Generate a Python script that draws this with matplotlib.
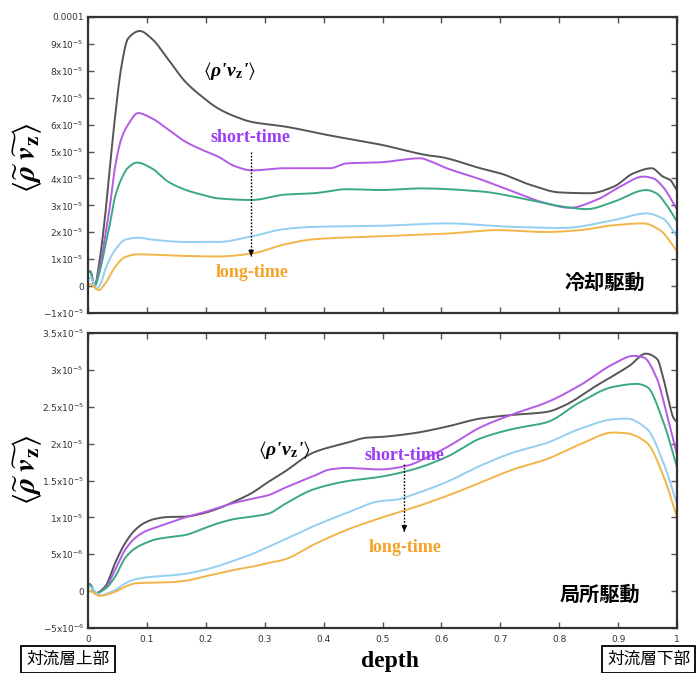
import numpy as np
import matplotlib
matplotlib.use("Agg")
import matplotlib.pyplot as plt

# ---------------- data (top panel, units of 1e-5) ----------------
top_black_x = [0, 0.004, 0.011, 0.02, 0.029, 0.038, 0.046, 0.057, 0.068, 0.088, 0.108, 0.136, 0.165, 0.193,
               0.221, 0.25, 0.278, 0.334, 0.41, 0.496, 0.58, 0.598, 0.666, 0.7, 0.75, 0.801, 0.852, 0.892,
               0.926, 0.957, 0.976, 0.988, 1.0]
top_black_y = [0.5, 0.55, 0.0, 1.0, 2.6, 4.6, 6.3, 8.2, 9.2, 9.48, 9.2, 8.43, 7.6, 7.05,
               6.6, 6.3, 6.1, 5.93, 5.6, 5.26, 4.85, 4.8, 4.38, 4.19, 3.77, 3.48, 3.45, 3.69,
               4.19, 4.38, 4.07, 3.95, 3.55]

top_purple_x = [0, 0.004, 0.011, 0.02, 0.029, 0.038, 0.046, 0.057, 0.068, 0.085, 0.108, 0.136, 0.165, 0.193,
                0.221, 0.25, 0.278, 0.334, 0.411, 0.439, 0.496, 0.564, 0.58, 0.609, 0.666, 0.722, 0.779,
                0.818, 0.864, 0.903, 0.943, 0.96, 0.976, 1.0]
top_purple_y = [0.5, 0.55, 0.0, 0.7, 1.83, 3.1, 4.44, 5.5, 6.0, 6.43, 6.24, 5.82, 5.37, 5.07,
                4.81, 4.45, 4.3, 4.38, 4.38, 4.56, 4.6, 4.75, 4.65, 4.38, 3.97, 3.51, 3.07,
                2.91, 3.21, 3.69, 4.07, 4.0, 3.69, 2.85]

top_green_x = [0, 0.004, 0.011, 0.02, 0.029, 0.038, 0.046, 0.057, 0.068, 0.083, 0.108, 0.136, 0.165, 0.193,
               0.221, 0.278, 0.334, 0.383, 0.439, 0.496, 0.564, 0.666, 0.75, 0.807, 0.847, 0.892, 0.948,
               0.965, 0.982, 1.0]
top_green_y = [0.5, 0.55, 0.0, 0.55, 1.46, 2.4, 3.32, 4.0, 4.4, 4.59, 4.38, 3.88, 3.58, 3.4,
               3.26, 3.2, 3.4, 3.45, 3.6, 3.57, 3.63, 3.52, 3.2, 2.95, 2.86, 3.13, 3.57,
               3.45, 3.02, 2.4]

top_blue_x = [0, 0.005, 0.014, 0.022, 0.029, 0.046, 0.063, 0.085, 0.108, 0.165, 0.221, 0.278, 0.334, 0.383,
              0.496, 0.609, 0.722, 0.807, 0.892, 0.948, 0.976, 1.0]
top_blue_y = [0.3, 0.3, -0.1, 0.1, 0.6, 1.34, 1.72, 1.8, 1.73, 1.64, 1.64, 1.85, 2.12, 2.2,
              2.24, 2.33, 2.2, 2.16, 2.45, 2.7, 2.51, 1.85]

top_orange_x = [0, 0.006, 0.018, 0.029, 0.046, 0.063, 0.085, 0.165, 0.221, 0.278, 0.334, 0.383, 0.496,
                0.609, 0.694, 0.779, 0.835, 0.892, 0.943, 0.971, 1.0]
top_orange_y = [0.1, 0.05, -0.15, 0.09, 0.71, 1.08, 1.18, 1.12, 1.1, 1.21, 1.55, 1.74, 1.85,
                1.95, 2.08, 2.01, 2.08, 2.26, 2.33, 2.08, 1.3]

# ---------------- data (bottom panel, units of 1e-6) ----------------
bot_black_x = [0, 0.004, 0.012, 0.029, 0.046, 0.063, 0.08, 0.097, 0.114, 0.136, 0.165, 0.193, 0.221, 0.25,
               0.278, 0.306, 0.334, 0.383, 0.439, 0.473, 0.496, 0.552, 0.609, 0.666, 0.722, 0.779, 0.807,
               0.864, 0.92, 0.947, 0.966, 0.977, 0.985, 0.994, 1.0]
bot_black_y = [1.05, 0.9, -0.3, 0.6, 3.8, 6.5, 8.3, 9.3, 9.8, 10.05, 10.1, 10.5, 11.2, 12.2,
               13.3, 14.8, 16.2, 18.8, 20.1, 20.8, 20.9, 21.4, 22.3, 23.4, 23.9, 24.3, 25.1,
               27.9, 30.6, 32.2, 31.5, 28.8, 26.1, 23.5, 22.9]

bot_purple_x = [0, 0.004, 0.012, 0.029, 0.046, 0.063, 0.08, 0.097, 0.114, 0.136, 0.165, 0.193, 0.221, 0.25,
                0.278, 0.306, 0.334, 0.383, 0.411, 0.439, 0.496, 0.541, 0.58, 0.609, 0.666, 0.722, 0.779,
                0.835, 0.892, 0.926, 0.943, 0.966, 0.982, 1.0]
bot_purple_y = [1.0, 0.9, -0.3, 0.4, 2.9, 5.6, 7.2, 8.1, 8.6, 9.2, 10.0, 10.6, 11.3, 12.0,
                12.5, 13.0, 14.0, 15.6, 16.5, 16.7, 16.5, 17.0, 18.3, 19.5, 22.2, 24.0, 25.6,
                27.9, 30.8, 31.9, 31.7, 28.8, 24.2, 18.5]

bot_green_x = [0, 0.004, 0.012, 0.029, 0.046, 0.063, 0.08, 0.097, 0.114, 0.136, 0.165, 0.193, 0.221, 0.25,
               0.278, 0.306, 0.334, 0.383, 0.439, 0.496, 0.552, 0.609, 0.666, 0.722, 0.779, 0.835, 0.892,
               0.932, 0.949, 0.977, 1.0]
bot_green_y = [1.0, 0.9, -0.3, 0.3, 1.95, 4.5, 5.8, 6.5, 7.0, 7.3, 7.6, 8.4, 9.2, 9.8,
               10.1, 10.5, 11.8, 13.8, 14.9, 15.5, 16.5, 18.2, 20.7, 22.0, 22.9, 25.6, 27.7,
               28.1, 27.7, 22.9, 16.8]

bot_blue_x = [0, 0.005, 0.02, 0.046, 0.063, 0.08, 0.108, 0.136, 0.165, 0.193, 0.221, 0.25, 0.278, 0.306,
              0.334, 0.383, 0.439, 0.496, 0.524, 0.552, 0.609, 0.666, 0.722, 0.779, 0.835, 0.892, 0.914,
              0.949, 0.977, 1.0]
bot_blue_y = [0.6, 0.5, -0.55, 0.14, 1.05, 1.6, 1.95, 2.1, 2.35, 2.8, 3.4, 4.2, 5.0, 6.0,
              7.0, 8.8, 10.6, 12.2, 12.4, 13.1, 14.8, 17.0, 18.8, 20.1, 22.0, 23.3, 23.4,
              22.0, 17.4, 11.8]

bot_orange_x = [0, 0.005, 0.02, 0.046, 0.063, 0.08, 0.108, 0.136, 0.165, 0.193, 0.221, 0.25, 0.278, 0.306,
                0.334, 0.383, 0.439, 0.496, 0.552, 0.609, 0.666, 0.722, 0.779, 0.835, 0.892, 0.914,
                0.949, 0.977, 1.0]
bot_orange_y = [0.1, 0.0, -0.64, -0.1, 0.6, 1.05, 1.15, 1.2, 1.4, 1.9, 2.4, 2.9, 3.3, 3.8,
                4.3, 6.3, 8.3, 9.9, 11.3, 12.9, 14.7, 16.5, 17.9, 19.9, 21.5, 21.4,
                20.1, 15.6, 10.0]

# ---------------- ticks ----------------
x_ticks = [0, 0.1, 0.2, 0.3, 0.4, 0.5, 0.6, 0.7, 0.8, 0.9, 1.0]
x_ticklabels = ['0', '0.1', '0.2', '0.3', '0.4', '0.5', '0.6', '0.7', '0.8', '0.9', '1']
top_yticks = [-1e-5, 0, 1e-5, 2e-5, 3e-5, 4e-5, 5e-5, 6e-5, 7e-5, 8e-5, 9e-5, 1e-4]
top_yticklabels = [r'$\mathregular{-1x10^{-5}}$', '0'] + \
    [r'$\mathregular{%dx10^{-5}}$' % i for i in range(1, 10)] + ['0.0001']
bot_yticks = [-5e-6, 0, 5e-6, 1e-5, 1.5e-5, 2e-5, 2.5e-5, 3e-5, 3.5e-5]
bot_yticklabels = [r'$\mathregular{-5x10^{-6}}$', '0', r'$\mathregular{5x10^{-6}}$',
                   r'$\mathregular{1x10^{-5}}$', r'$\mathregular{1.5x10^{-5}}$', r'$\mathregular{2x10^{-5}}$',
                   r'$\mathregular{2.5x10^{-5}}$', r'$\mathregular{3x10^{-5}}$', r'$\mathregular{3.5x10^{-5}}$']

c_black = '#555555'
c_purple = '#b45ae6'
c_green = '#3aa982'
c_blue = '#94cff2'
c_orange = '#f2b549'
txt_purple = '#9b3df2'
txt_orange = '#f5a225'


def pchip(x, y, n=600):
    """Monotone cubic Hermite curve through the read points (for smooth drawing)."""
    x = np.asarray(x, float)
    y = np.asarray(y, float)
    h = np.diff(x)
    d = np.diff(y) / h
    m = np.zeros_like(y)
    for k in range(1, len(x) - 1):
        if d[k - 1] * d[k] > 0:
            w1 = 2 * h[k] + h[k - 1]
            w2 = h[k] + 2 * h[k - 1]
            m[k] = (w1 + w2) / (w1 / d[k - 1] + w2 / d[k])
    m[0] = d[0]
    m[-1] = d[-1]
    xs = np.linspace(x[0], x[-1], n)
    idx = np.clip(np.searchsorted(x, xs) - 1, 0, len(x) - 2)
    t = (xs - x[idx]) / h[idx]
    h00 = 2 * t ** 3 - 3 * t ** 2 + 1
    h10 = t ** 3 - 2 * t ** 2 + t
    h01 = -2 * t ** 3 + 3 * t ** 2
    h11 = t ** 3 - t ** 2
    ys = h00 * y[idx] + h10 * h[idx] * m[idx] + h01 * y[idx + 1] + h11 * h[idx] * m[idx + 1]
    return xs, ys


W, H = 696, 673
fig = plt.figure(figsize=(W / 100, H / 100), dpi=100)
ax1 = fig.add_axes([88 / W, 1 - 313 / H, 589 / W, 296 / H])
ax2 = fig.add_axes([88 / W, 1 - 628 / H, 589 / W, 295 / H])


def style(ax):
    for s in ax.spines.values():
        s.set_linewidth(1.6)
        s.set_color('#333333')
    ax.tick_params(direction='in', top=True, right=True, length=4, width=1, color='#555555',
                   labelsize=6.5, labelcolor='#333333', pad=3)
    ax.set_xlim(0, 1)
    ax.set_xticks(x_ticks)


def curve(ax, x, y, scale, color):
    xs, ys = pchip(x, y)
    ax.plot(xs, ys * scale, color=color, lw=1.4, solid_joinstyle='round')


style(ax1)
curve(ax1, top_black_x, top_black_y, 1e-5, c_black)
curve(ax1, top_purple_x, top_purple_y, 1e-5, c_purple)
curve(ax1, top_green_x, top_green_y, 1e-5, c_green)
curve(ax1, top_blue_x, top_blue_y, 1e-5, c_blue)
curve(ax1, top_orange_x, top_orange_y, 1e-5, c_orange)
ax1.set_ylim(-1e-5, 1e-4)
ax1.set_yticks(top_yticks)
ax1.set_yticklabels(top_yticklabels)
ax1.set_xticklabels([])

style(ax2)
curve(ax2, bot_black_x, bot_black_y, 1e-6, c_black)
curve(ax2, bot_purple_x, bot_purple_y, 1e-6, c_purple)
curve(ax2, bot_green_x, bot_green_y, 1e-6, c_green)
curve(ax2, bot_blue_x, bot_blue_y, 1e-6, c_blue)
curve(ax2, bot_orange_x, bot_orange_y, 1e-6, c_orange)
ax2.set_ylim(-5e-6, 3.5e-5)
ax2.set_yticks(bot_yticks)
ax2.set_yticklabels(bot_yticklabels)
ax2.set_xticklabels(x_ticklabels)
ax2.tick_params(axis='x', pad=5)

serif = ['Liberation Serif', 'DejaVu Serif']
cjk = ['Noto Sans CJK JP', 'DejaVu Sans']


def arrow(ax, x, y0, y1):
    ax.plot([x, x], [y0, y1], ls=(0, (1.2, 1.2)), color='black', lw=1)
    ax.annotate('', xy=(x, y1), xytext=(x, y1 + (y0 - y1) * 0.01),
                arrowprops=dict(arrowstyle='-|>', color='black', lw=0.8, mutation_scale=8))


flux = r"$\langle$ρ'v$_\mathbf{z}$'$\rangle$"


def flux_label(ax, x, y):
    ax.text(x, y, flux, fontsize=14, fontweight='bold', fontstyle='italic', family=serif,
            ha='center', va='center', math_fontfamily='stix')


# annotations top
flux_label(ax1, 0.241, 8.0e-5)
ax1.text(0.275, 5.52e-5, 'short-time', color=txt_purple, fontsize=13, fontweight='bold',
         family=serif, ha='center', va='center')
arrow(ax1, 0.277, 4.97e-5, 1.12e-5)
ax1.text(0.278, 0.49e-5, 'long-time', color=txt_orange, fontsize=13, fontweight='bold',
         family=serif, ha='center', va='center')
ax1.text(0.878, 0.15e-5, '冷却駆動', fontsize=14.5, fontweight='bold', family=cjk,
         ha='center', va='center')

# annotations bottom
flux_label(ax2, 0.334, 19.2e-6)
ax2.text(0.538, 18.4e-6, 'short-time', color=txt_purple, fontsize=13, fontweight='bold',
         family=serif, ha='center', va='center')
arrow(ax2, 0.537, 17.3e-6, 8.1e-6)
ax2.text(0.538, 5.9e-6, 'long-time', color=txt_orange, fontsize=13, fontweight='bold',
         family=serif, ha='center', va='center')
ax2.text(0.869, -0.4e-6, '局所駆動', fontsize=14.5, fontweight='bold', family=cjk,
         ha='center', va='center')

# y labels
ylab = r'$\langle\widetilde{\boldsymbol{\rho}}\;\widetilde{\boldsymbol{v}_\mathbf{z}}\rangle$'
fig.text(28 / W, 1 - 158 / H, ylab, rotation=90, fontsize=22, ha='center', va='center',
         math_fontfamily='stix')
fig.text(28 / W, 1 - 470 / H, ylab, rotation=90, fontsize=22, ha='center', va='center',
         math_fontfamily='stix')

# x label
fig.text(390 / W, 1 - 662 / H, 'depth', fontsize=17, fontweight='bold', family=serif,
         ha='center', va='center')

box = dict(boxstyle='square,pad=0.3', facecolor='white', edgecolor='black', lw=1.3)
fig.text(68 / W, 1 - 659 / H, '対流層上部', fontsize=12, family=cjk, ha='center', va='center', bbox=box)
fig.text(607 / W, 1 - 659 / H, '対流層下部', fontsize=12, family=cjk, ha='left', va='center', bbox=box)

fig.savefig('out.png', dpi=100, facecolor='white')
